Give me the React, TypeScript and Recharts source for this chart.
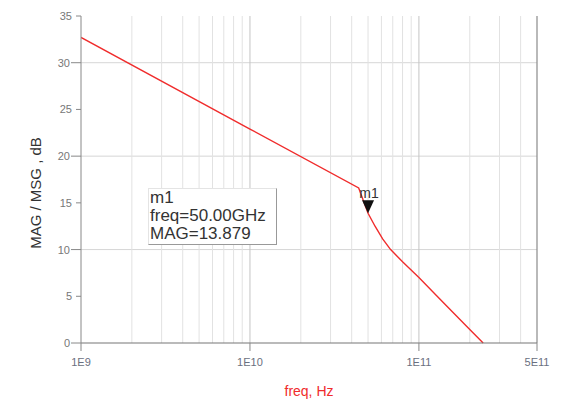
import {
  CartesianGrid,
  Line,
  LineChart,
  ReferenceDot,
  ReferenceLine,
  XAxis,
  YAxis,
} from "recharts";

// MAG/MSG sweep, frequency in Hz, gain in dB
const FREQ_HZ = [1e9, 1e10, 44e9, 50e9, 55e9, 61e9, 68e9, 80e9, 100e9, 120e9, 150e9, 200e9, 240e9];
const MAG_DB = [32.7, 22.9, 16.6, 13.879, 12.5, 11.15, 10.0, 8.7, 7.0, 5.55, 3.75, 1.45, 0];

const X_TICKS = [1e9, 1e10, 1e11, 5e11];
const X_TICK_LABELS = ["1E9", "1E10", "1E11", "5E11"];
const Y_TICKS = [0, 5, 10, 15, 20, 25, 30, 35];
const Y_GRID = [10, 20, 30];

const MARKER_NAME = "m1";
const MARKER_FREQ = 50e9;
const MARKER_FREQ_LABEL = "50.00GHz";
const MARKER_VALUE = MAG_DB[FREQ_HZ.indexOf(MARKER_FREQ)];

// log grid: 2..9 within each decade, up to the axis end
const MINOR_GRID: number[] = [];
for (const dec of [1e9, 1e10, 1e11]) {
  for (let m = 2; m <= 9; m++) {
    if (dec * m < 5e11) MINOR_GRID.push(dec * m);
  }
}

const data = FREQ_HZ.map((f, i) => ({ freq: f, mag: MAG_DB[i] }));

const W = 567;
const H = 399;
const PLOT_LEFT = 81;
const FONT = "'Liberation Sans', Arial, sans-serif";

const YTick = (props: { x?: number; y?: number; payload?: { value: number } }) => {
  const { y = 0, payload } = props;
  if (!payload) return null;
  const major = payload.value % 10 === 0;
  return (
    <g>
      <line
        x1={PLOT_LEFT - (major ? 10 : 5)}
        x2={PLOT_LEFT}
        y1={y}
        y2={y}
        stroke="#888"
        strokeWidth={1}
      />
      <text
        x={PLOT_LEFT - (major ? 11 : 9)}
        y={y}
        dy={4}
        textAnchor="end"
        fontSize={11}
        fill="#777"
        fontFamily={FONT}
      >
        {payload.value}
      </text>
    </g>
  );
};

const XTick = (props: { x?: number; y?: number; payload?: { value: number } }) => {
  const { x = 0, y = 0, payload } = props;
  if (!payload) return null;
  const idx = X_TICKS.indexOf(payload.value);
  return (
    <g>
      <line x1={x} x2={x} y1={y - 6} y2={y + 2} stroke="#888" />
      <text
        x={x}
        y={y + 17}
        textAnchor="middle"
        fontSize={11}
        fill="#6a7080"
        fontFamily={FONT}
      >
        {X_TICK_LABELS[idx]}
      </text>
    </g>
  );
};

const MarkerShape = (props: { cx?: number; cy?: number }) => {
  const { cx = 0, cy = 0 } = props;
  return (
    <g>
      <path d={`M${cx - 6},${cy - 13} L${cx + 6},${cy - 13} L${cx},${cy} Z`} fill="#111" />
      <text x={cx + 1} y={cy - 15} textAnchor="middle" fontSize={14} fill="#333" fontFamily={FONT}>
        {MARKER_NAME}
      </text>
    </g>
  );
};

export default function App() {
  return (
    <div style={{ position: "absolute", left: 0, top: 0, width: W, height: H, background: "#fff" }}>
      <LineChart
        width={W}
        height={H}
        data={data}
        margin={{ top: 16, right: 30, bottom: 26, left: 0 }}
      >
        <CartesianGrid
          vertical={false}
          horizontalValues={Y_GRID}
          stroke="#d6d6d6"
        />
        {MINOR_GRID.map((f) => (
          <ReferenceLine key={f} x={f} stroke="#e2e2e2" strokeWidth={1} />
        ))}
        <ReferenceLine x={1e10} stroke="#c4c4c4" />
        <ReferenceLine x={1e11} stroke="#c4c4c4" />
        <ReferenceLine x={5e11} stroke="#8a8a8a" strokeWidth={1.2} />
        <XAxis
          dataKey="freq"
          type="number"
          scale="log"
          domain={[1e9, 5e11]}
          ticks={X_TICKS}
          interval={0}
          allowDataOverflow
          height={30}
          axisLine={{ stroke: "#777", strokeWidth: 1.2 }}
          tickLine={false}
          tick={<XTick />}
          tickSize={6}
          tickMargin={0}
        />
        <YAxis
          type="number"
          domain={[0, 35]}
          ticks={Y_TICKS}
          interval={0}
          width={PLOT_LEFT}
          axisLine={{ stroke: "#888", strokeWidth: 1 }}
          tickLine={false}
          tick={<YTick />}
        />
        <Line
          type="linear"
          dataKey="mag"
          stroke="#f02c2c"
          strokeWidth={1.4}
          dot={false}
          activeDot={false}
          isAnimationActive={false}
        />
        <ReferenceDot
          x={MARKER_FREQ}
          y={MARKER_VALUE}
          r={0}
          shape={<MarkerShape />}
        />
      </LineChart>

      {/* marker readout box */}
      <div
        style={{
          position: "absolute",
          left: 148,
          top: 188,
          width: 129,
          height: 57,
          background: "#fff",
          border: "1px solid #e4e4e4",
          borderRightColor: "#999",
          borderBottomColor: "#999",
          fontFamily: FONT,
          fontSize: 17,
          lineHeight: "18px",
          color: "#333",
          padding: "0 0 0 1px",
          boxSizing: "border-box",
          whiteSpace: "nowrap",
        }}
      >
        <div>{MARKER_NAME}</div>
        <div>freq={MARKER_FREQ_LABEL}</div>
        <div>MAG={MARKER_VALUE.toFixed(3)}</div>
      </div>

      {/* axis titles */}
      <div
        style={{
          position: "absolute",
          left: 309,
          top: 383,
          transform: "translateX(-50%)",
          fontFamily: FONT,
          fontSize: 14,
          color: "#f02c2c",
          whiteSpace: "nowrap",
        }}
      >
        freq, Hz
      </div>
      <div
        style={{
          position: "absolute",
          left: 35,
          top: 193,
          transform: "translate(-50%, -50%) rotate(-90deg)",
          whiteSpace: "nowrap",
          fontFamily: FONT,
          fontSize: 15,
          color: "#333",
        }}
      >
        MAG / MSG , dB
      </div>
    </div>
  );
}
